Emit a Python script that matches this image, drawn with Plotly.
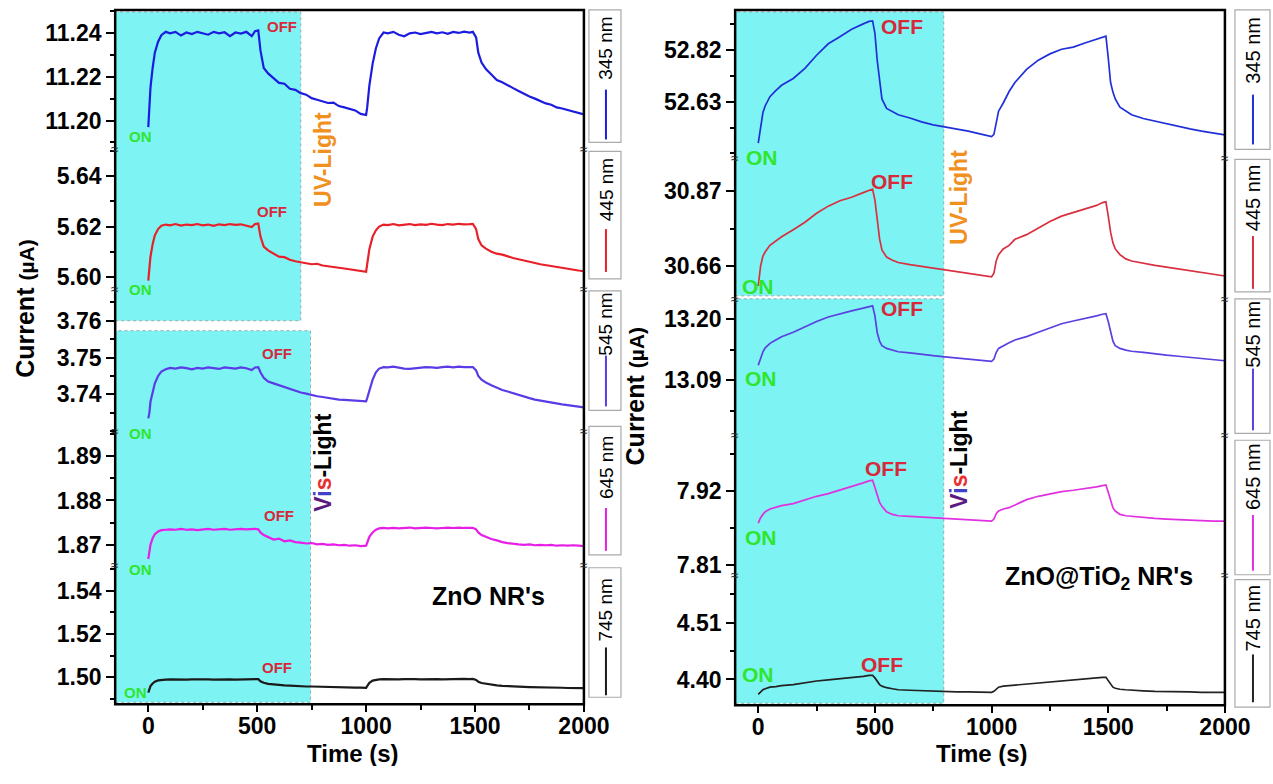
import plotly.graph_objects as go

# ---------------- DATA ----------------
wavelengths = ["345 nm", "445 nm", "545 nm", "645 nm", "745 nm"]

tL = [0, 5, 10, 20, 30, 45, 60, 80, 100,
      125, 150, 175, 200, 225, 250, 275, 300, 325, 350, 375, 400, 425, 450, 475,
      490, 505, 515, 530, 550,
      575, 600, 625, 650, 675, 700, 725, 750, 775, 800, 825, 850, 875, 900, 925, 950, 975,
      1000, 1005, 1015, 1030, 1045, 1060, 1080, 1100,
      1125, 1150, 1175, 1200, 1225, 1250, 1275, 1300, 1325, 1350, 1375, 1400, 1425, 1450, 1475,
      1490, 1505, 1515, 1530, 1550,
      1575, 1600, 1625, 1650, 1675, 1700, 1725, 1750, 1775, 1800, 1825, 1850, 1875, 1900, 1925, 1950, 1975, 2000]

zno_345 = [11.1970, 11.2050, 11.2150, 11.2240, 11.2310, 11.2360, 11.2390, 11.2405, 11.2398,
           11.2405, 11.2388, 11.2402, 11.2395, 11.2405, 11.2400, 11.2392, 11.2405, 11.2398, 11.2403, 11.2385, 11.2402, 11.2397, 11.2405, 11.2385,
           11.2408, 11.2412, 11.2320, 11.2240, 11.2215,
           11.2195, 11.2172, 11.2168, 11.2145, 11.2140, 11.2125, 11.2118, 11.2102, 11.2095, 11.2088, 11.2080, 11.2082, 11.2066, 11.2060, 11.2052, 11.2046, 11.2030,
           11.2025, 11.2060, 11.2160, 11.2260, 11.2330, 11.2375, 11.2402, 11.2398,
           11.2405, 11.2392, 11.2385, 11.2398, 11.2402, 11.2395, 11.2400, 11.2405, 11.2398, 11.2403, 11.2396, 11.2405, 11.2400, 11.2406, 11.2402,
           11.2405, 11.2380, 11.2310, 11.2265, 11.2235,
           11.2210, 11.2185, 11.2175, 11.2160, 11.2148, 11.2135, 11.2122, 11.2110, 11.2100, 11.2090, 11.2078, 11.2072, 11.2060, 11.2055, 11.2048, 11.2040, 11.2035, 11.2028]

zno_445 = [5.5985, 5.6030, 5.6080, 5.6130, 5.6165, 5.6190, 5.6203, 5.6208, 5.6205,
           5.6210, 5.6204, 5.6208, 5.6206, 5.6210, 5.6205, 5.6208, 5.6203, 5.6209, 5.6206, 5.6210, 5.6207, 5.6209, 5.6205, 5.6198,
           5.6210, 5.6212, 5.6160, 5.6120, 5.6105,
           5.6092, 5.6080, 5.6078, 5.6068, 5.6062, 5.6058, 5.6055, 5.6050, 5.6052, 5.6045, 5.6042, 5.6040, 5.6036, 5.6033, 5.6030, 5.6028, 5.6024,
           5.6020, 5.6050, 5.6110, 5.6160, 5.6185, 5.6200, 5.6208, 5.6206,
           5.6210, 5.6205, 5.6208, 5.6210, 5.6206, 5.6209, 5.6207, 5.6211, 5.6208, 5.6206, 5.6210, 5.6208, 5.6211, 5.6209, 5.6210,
           5.6211, 5.6190, 5.6150, 5.6125, 5.6112,
           5.6100, 5.6092, 5.6088, 5.6080, 5.6075, 5.6070, 5.6064, 5.6060, 5.6055, 5.6050, 5.6046, 5.6042, 5.6038, 5.6035, 5.6032, 5.6028, 5.6025, 5.6022]

zno_545 = [3.7335, 3.7350, 3.7380, 3.7410, 3.7430, 3.7450, 3.7462, 3.7468, 3.7472,
           3.7470, 3.7473, 3.7471, 3.7468, 3.7472, 3.7470, 3.7473, 3.7471, 3.7469, 3.7473, 3.7472, 3.7470, 3.7473, 3.7471, 3.7466,
           3.7473, 3.7474, 3.7460, 3.7445, 3.7435,
           3.7430, 3.7425, 3.7420, 3.7414, 3.7410, 3.7405, 3.7402, 3.7398, 3.7395, 3.7393, 3.7390, 3.7388, 3.7386, 3.7385, 3.7384, 3.7383, 3.7382,
           3.7381, 3.7390, 3.7410, 3.7440, 3.7460, 3.7470, 3.7474, 3.7473,
           3.7475, 3.7472, 3.7470, 3.7469, 3.7471, 3.7472, 3.7474, 3.7473, 3.7472, 3.7474, 3.7475, 3.7473, 3.7475, 3.7474, 3.7475,
           3.7474, 3.7465, 3.7450, 3.7440, 3.7432,
           3.7425, 3.7418, 3.7412, 3.7408, 3.7403, 3.7398, 3.7394, 3.7390, 3.7386, 3.7383, 3.7380, 3.7378, 3.7375, 3.7373, 3.7371, 3.7369, 3.7367, 3.7365]

zno_645 = [1.8668, 1.8685, 1.8700, 1.8715, 1.8724, 1.8730, 1.8733, 1.8734, 1.8735,
           1.8734, 1.8736, 1.8734, 1.8735, 1.8733, 1.8735, 1.8736, 1.8734, 1.8735, 1.8736, 1.8734, 1.8735, 1.8736, 1.8735, 1.8736,
           1.8736, 1.8735, 1.8728, 1.8722, 1.8718,
           1.8712, 1.8714, 1.8708, 1.8710, 1.8706, 1.8705, 1.8703, 1.8704, 1.8701, 1.8702, 1.8700, 1.8701, 1.8699, 1.8700, 1.8698, 1.8699, 1.8697,
           1.8698, 1.8705, 1.8718, 1.8728, 1.8734, 1.8737, 1.8738, 1.8737,
           1.8738, 1.8737, 1.8738, 1.8739, 1.8737, 1.8738, 1.8739, 1.8738, 1.8737, 1.8738, 1.8739, 1.8738, 1.8739, 1.8738, 1.8739,
           1.8738, 1.8735, 1.8728, 1.8722, 1.8718,
           1.8713, 1.8710, 1.8706, 1.8704, 1.8702, 1.8701, 1.8700, 1.8701, 1.8699, 1.8700, 1.8699, 1.8700, 1.8698, 1.8699, 1.8698, 1.8699, 1.8698, 1.8697]

zno_745 = [1.4930, 1.4945, 1.4960, 1.4972, 1.4980, 1.4986, 1.4989, 1.4990, 1.4991,
           1.4990, 1.4991, 1.4990, 1.4991, 1.4992, 1.4990, 1.4991, 1.4990, 1.4991, 1.4992, 1.4991, 1.4990, 1.4991, 1.4992, 1.4991,
           1.4993, 1.4992, 1.4982, 1.4975, 1.4970,
           1.4967, 1.4965, 1.4963, 1.4962, 1.4960, 1.4960, 1.4958, 1.4958, 1.4957, 1.4956, 1.4956, 1.4955, 1.4955, 1.4954, 1.4954, 1.4953, 1.4953,
           1.4952, 1.4960, 1.4975, 1.4985, 1.4989, 1.4991, 1.4992, 1.4991,
           1.4992, 1.4991, 1.4992, 1.4993, 1.4992, 1.4991, 1.4992, 1.4993, 1.4992, 1.4991, 1.4992, 1.4993, 1.4992, 1.4993, 1.4992,
           1.4993, 1.4988, 1.4980, 1.4974, 1.4970,
           1.4966, 1.4963, 1.4961, 1.4959, 1.4958, 1.4957, 1.4956, 1.4955, 1.4955, 1.4954, 1.4953, 1.4953, 1.4952, 1.4952, 1.4951, 1.4951, 1.4950, 1.4950]

tR = [0, 10, 20, 30, 50, 75, 100,
      150, 200, 250, 300, 350, 400, 450,
      475, 490, 500, 510, 520, 530, 550, 575, 600,
      650, 700, 750, 800, 850, 900, 950, 1000,
      1010, 1020, 1030, 1050, 1075, 1100,
      1150, 1200, 1250, 1300, 1350, 1400, 1450,
      1475, 1490, 1500, 1510, 1520, 1530, 1550, 1575, 1600,
      1650, 1700, 1750, 1800, 1850, 1900, 1950, 2000]

zt_345 = [52.478, 52.54, 52.59, 52.615, 52.648, 52.67, 52.69,
          52.715, 52.752, 52.80, 52.842, 52.868, 52.895, 52.915,
          52.924, 52.926, 52.88, 52.78, 52.70, 52.64, 52.605, 52.592, 52.582,
          52.570, 52.556, 52.545, 52.538, 52.530, 52.522, 52.512, 52.502,
          52.51, 52.56, 52.595, 52.625, 52.667, 52.70,
          52.748, 52.782, 52.805, 52.822, 52.830, 52.845, 52.860,
          52.866, 52.870, 52.79, 52.70, 52.665, 52.64, 52.61, 52.595, 52.582,
          52.568, 52.558, 52.548, 52.540, 52.530, 52.522, 52.515, 52.508]

zt_445 = [30.604, 30.66, 30.688, 30.700, 30.718, 30.730, 30.742,
          30.762, 30.783, 30.808, 30.828, 30.843, 30.853, 30.866,
          30.873, 30.876, 30.845, 30.79, 30.736, 30.705, 30.685, 30.676, 30.670,
          30.664, 30.659, 30.654, 30.650, 30.645, 30.640, 30.635, 30.630,
          30.640, 30.675, 30.692, 30.708, 30.718, 30.735,
          30.748, 30.767, 30.785, 30.800, 30.810, 30.818, 30.830,
          30.838, 30.840, 30.80, 30.755, 30.725, 30.708, 30.692, 30.680, 30.674,
          30.667, 30.662, 30.657, 30.652, 30.647, 30.642, 30.637, 30.632]

zt_545 = [13.117, 13.130, 13.141, 13.148, 13.156, 13.162, 13.168,
          13.176, 13.186, 13.195, 13.203, 13.209, 13.214, 13.219,
          13.222, 13.223, 13.205, 13.175, 13.160, 13.152, 13.147, 13.144, 13.141,
          13.139, 13.136, 13.134, 13.132, 13.130, 13.128, 13.126, 13.124,
          13.128, 13.140, 13.147, 13.152, 13.157, 13.162,
          13.168, 13.176, 13.184, 13.191, 13.196, 13.200, 13.205,
          13.208, 13.209, 13.195, 13.175, 13.160, 13.152, 13.147, 13.144, 13.142,
          13.140, 13.137, 13.135, 13.133, 13.131, 13.129, 13.127, 13.125]

zt_645 = [7.872, 7.880, 7.885, 7.889, 7.893, 7.896, 7.898,
          7.901, 7.907, 7.912, 7.916, 7.921, 7.927, 7.932,
          7.935, 7.936, 7.925, 7.912, 7.903, 7.897, 7.889, 7.885, 7.883,
          7.882, 7.881, 7.880, 7.879, 7.878, 7.877, 7.876, 7.875,
          7.878, 7.886, 7.890, 7.893, 7.895, 7.899,
          7.907, 7.912, 7.916, 7.919, 7.921, 7.923, 7.926,
          7.928, 7.929, 7.918, 7.905, 7.895, 7.890, 7.885, 7.883, 7.882,
          7.880, 7.879, 7.878, 7.877, 7.876, 7.876, 7.875, 7.875]

zt_745 = [4.371, 4.376, 4.380, 4.382, 4.385, 4.386, 4.388,
          4.390, 4.394, 4.397, 4.399, 4.401, 4.404, 4.406,
          4.408, 4.408, 4.403, 4.396, 4.390, 4.387, 4.384, 4.382, 4.380,
          4.379, 4.378, 4.377, 4.377, 4.376, 4.376, 4.375, 4.375,
          4.377, 4.382, 4.385, 4.387, 4.388, 4.390,
          4.392, 4.394, 4.396, 4.398, 4.400, 4.401, 4.403,
          4.404, 4.404, 4.398, 4.390, 4.385, 4.383, 4.381, 4.380, 4.379,
          4.378, 4.377, 4.377, 4.376, 4.376, 4.375, 4.375, 4.375]

left_ticks = [[11.20, 11.22, 11.24], [5.60, 5.62, 5.64], [3.74, 3.75, 3.76],
              [1.87, 1.88, 1.89], [1.50, 1.52, 1.54]]
right_ticks = [[52.63, 52.82], [30.66, 30.87], [13.09, 13.20], [7.81, 7.92], [4.40, 4.51]]
x_ticks = [0, 500, 1000, 1500, 2000]

# ---------------- STYLE / LAYOUT ----------------
# reference pixel grid is 1273 x 784; the page is captured slightly wider and squeezed,
# so the figure is laid out on a 1301 px wide canvas with positions given as fractions.
REF_W = 1273
FW, FH = 1301, 766
def X(px): return px / REF_W
def Y(px): return 1 - px / FH

FONT = "Liberation Sans, Arial, sans-serif"
left_series = [zno_345, zno_445, zno_545, zno_645, zno_745]
right_series = [zt_345, zt_445, zt_545, zt_645, zt_745]
left_colors = ["#1c1ce0", "#e8202a", "#5a3be6", "#e61ee6", "#1a1a1a"]
right_colors = ["#2030d8", "#d83040", "#5a40e0", "#e030e0", "#222222"]

left_bounds = [10, 150, 290, 433, 567, 707]
right_bounds = [10, 159, 300, 437, 577, 708]
left_ranges = [[11.1868, 11.2505], [5.5952, 5.6507], [3.7300, 3.7686], [1.8655, 1.8956], [1.4876, 1.5520]]
right_ranges = [[52.422, 52.966], [30.568, 30.962], [12.992, 13.2355], [7.795, 8.003], [4.350, 4.603]]
left_minor = [0.01, 0.01, 0.005, 0.005, 0.01]
right_minor = [0.095, 0.105, 0.055, 0.055, 0.055]
LX = [115, 583]
RX = [734, 1223]
xrange_L = [-152, 2000]
xrange_R = [-99, 2000]

fig = go.Figure()
layout = dict(width=FW, height=FH, margin=dict(l=0, r=0, t=0, b=0), autosize=False,
              paper_bgcolor="white", plot_bgcolor="rgba(0,0,0,0)",
              showlegend=False, font=dict(family=FONT, color="black"))

def yaxis_cfg(dom_px, rng, ticks, minor, anchor):
    return dict(domain=[Y(dom_px[1]), Y(dom_px[0])], range=rng, anchor=anchor,
                tickmode="array", tickvals=ticks, ticktext=["<b>%.2f</b>" % v for v in ticks],
                ticks="outside", ticklen=8, tickwidth=2, tickcolor="black",
                minor=dict(ticks="outside", ticklen=4, tickwidth=1.5, tickcolor="black",
                           dtick=minor, tick0=ticks[0]),
                showline=False, showgrid=False, zeroline=False,
                tickfont=dict(family=FONT, size=23, color="black"))

for i in range(5):
    name = "yaxis" if i == 0 else "yaxis%d" % (i + 1)
    layout[name] = yaxis_cfg(left_bounds[i:i + 2], left_ranges[i], left_ticks[i], left_minor[i], "x")
    fig.add_trace(go.Scatter(x=tL, y=left_series[i], mode="lines", xaxis="x",
                             yaxis="y" if i == 0 else "y%d" % (i + 1),
                             line=dict(color=left_colors[i], width=2.2), name=wavelengths[i]))
    j = i + 6
    layout["yaxis%d" % j] = yaxis_cfg(right_bounds[i:i + 2], right_ranges[i], right_ticks[i], right_minor[i], "x2")
    fig.add_trace(go.Scatter(x=tR, y=right_series[i], mode="lines", xaxis="x2", yaxis="y%d" % j,
                             line=dict(color=right_colors[i], width=1.7), name=wavelengths[i]))

def xaxis_cfg(xpx, rng, anchor):
    return dict(domain=[X(xpx[0]), X(xpx[1])], range=rng, anchor=anchor,
                tickmode="array", tickvals=x_ticks, ticktext=["<b>%d</b>" % v for v in x_ticks],
                ticks="outside", ticklen=7, tickwidth=2, tickcolor="black", ticklabelstandoff=-6,
                minor=dict(ticks="outside", ticklen=5, tickwidth=1.5, tickcolor="black", dtick=250, tick0=0),
                showline=False, showgrid=False, zeroline=False,
                tickfont=dict(family=FONT, size=23, color="black"))

layout["xaxis"] = xaxis_cfg(LX, xrange_L, "y5")
layout["xaxis2"] = xaxis_cfg(RX, xrange_R, "y10")

shapes = []
annotations = []
CYAN = "#7df3f3"

def txt(x, y, text, size, color="black", angle=0, xref="paper", yanchor="middle"):
    annotations.append(dict(x=x, y=y, xref=xref, yref="paper", text=text, textangle=angle,
                            showarrow=False, font=dict(family=FONT, size=size, color=color),
                            xanchor="center", yanchor=yanchor))

for xr, x1, ys in [("x", 700, (12, 322)), ("x", 745, (332, 705)),
                   ("x2", 795, (12, 297)), ("x2", 795, (300, 706))]:
    x0 = xrange_L[0] if xr == "x" else xrange_R[0]
    shapes.append(dict(type="rect", xref=xr, yref="paper", x0=x0, x1=x1,
                       y0=Y(ys[1]), y1=Y(ys[0]), fillcolor=CYAN,
                       line=dict(color="#9aa", width=1, dash="dot"), layer="below"))

for xs, bs in [(LX, left_bounds), (RX, right_bounds)]:
    shapes.append(dict(type="rect", xref="paper", yref="paper", x0=X(xs[0]), x1=X(xs[1]),
                       y0=Y(bs[-1]), y1=Y(bs[0]), line=dict(color="black", width=2.5),
                       fillcolor="rgba(0,0,0,0)"))
    for b in bs[1:-1]:
        for xx in xs:
            txt(X(xx), Y(b), "≈", 14, "#333")

leg_left = dict(x0=588, x1=620, cx=605, size=19,
                boxes=[(10, 143), (152, 280), (292, 412), (428, 557), (570, 700)],
                text_c=[48, 190, 325, 469, 612],
                lines=[(90, 140), (230, 273), (357, 408), (510, 553), (650, 698)])
leg_right = dict(x0=1233, x1=1268, cx=1251, size=20,
                 boxes=[(10, 150), (160, 293), (300, 435), (442, 577), (582, 710)],
                 text_c=[50, 198, 335, 478, 620],
                 lines=[(95, 145), (237, 290), (370, 432), (517, 573), (657, 705)])
for leg, cols in [(leg_left, left_colors), (leg_right, right_colors)]:
    for k in range(5):
        b = leg["boxes"][k]
        shapes.append(dict(type="rect", xref="paper", yref="paper", x0=X(leg["x0"]), x1=X(leg["x1"]),
                           y0=Y(b[1]), y1=Y(b[0]), line=dict(color="#aaaaaa", width=1.2),
                           fillcolor="white"))
        ln = leg["lines"][k]
        shapes.append(dict(type="line", xref="paper", yref="paper", x0=X(leg["cx"]), x1=X(leg["cx"]),
                           y0=Y(ln[1]), y1=Y(ln[0]), line=dict(color=cols[k], width=2)))
        txt(X(leg["cx"]), Y(leg["text_c"][k]), wavelengths[k], leg["size"], angle=-90)

GREEN = "#2ee62e"
RED = "#d8283a"
left_on = [(-37, 137), (-37, 291), (-37, 435), (-37, 572), (-60, 695)]
left_off = [(613, 27), (567, 212), (590, 355), (599, 518), (590, 670)]
right_on = [(17, 158), (0, 288), (13, 380), (13, 540), (0, 677)]
right_off = [(615, 27), (572, 182), (615, 310), (546, 470), (529, 667)]
for xr, ons, offs, fs in [("x", left_on, left_off, 15), ("x2", right_on, right_off, 21)]:
    for (t, py) in ons:
        txt(t, Y(py), "<b>ON</b>", fs, GREEN, xref=xr)
    for (t, py) in offs:
        txt(t, Y(py), "<b>OFF</b>", fs, RED, xref=xr)

ORANGE = "#f0901e"
vis_text = ("<b><span style='color:#5a1a80'>V</span><span style='color:#4040c8'>i</span>"
            "<span style='color:#e83030'>s</span>-Light</b>")
for cx, uvy, visy in [(323, 160, 465), (958, 198, 462)]:
    txt(X(cx), Y(uvy), "<b>UV-Light</b>", 23, ORANGE, angle=-90)
    txt(X(cx), Y(visy), vis_text, 23, "black", angle=-90)

txt(X(488), Y(598), "<b>ZnO NR's</b>", 25)
txt(X(1097), Y(580), "<b>ZnO@TiO<sub>2</sub> NR's</b>", 25)

ytitle = "<b>Current <span style='font-size:21px'>(µA)</span></b>"
txt(X(25), Y(310), ytitle, 25, angle=-90)
txt(X(634), Y(397), ytitle, 25, angle=-90)
for cx in [352, 980]:
    txt(X(cx), -0.008, "<b>Time (s)</b>", 24, yanchor="bottom")

layout["shapes"] = shapes
layout["annotations"] = annotations
fig.update_layout(**layout)
fig.write_html("out.html")
